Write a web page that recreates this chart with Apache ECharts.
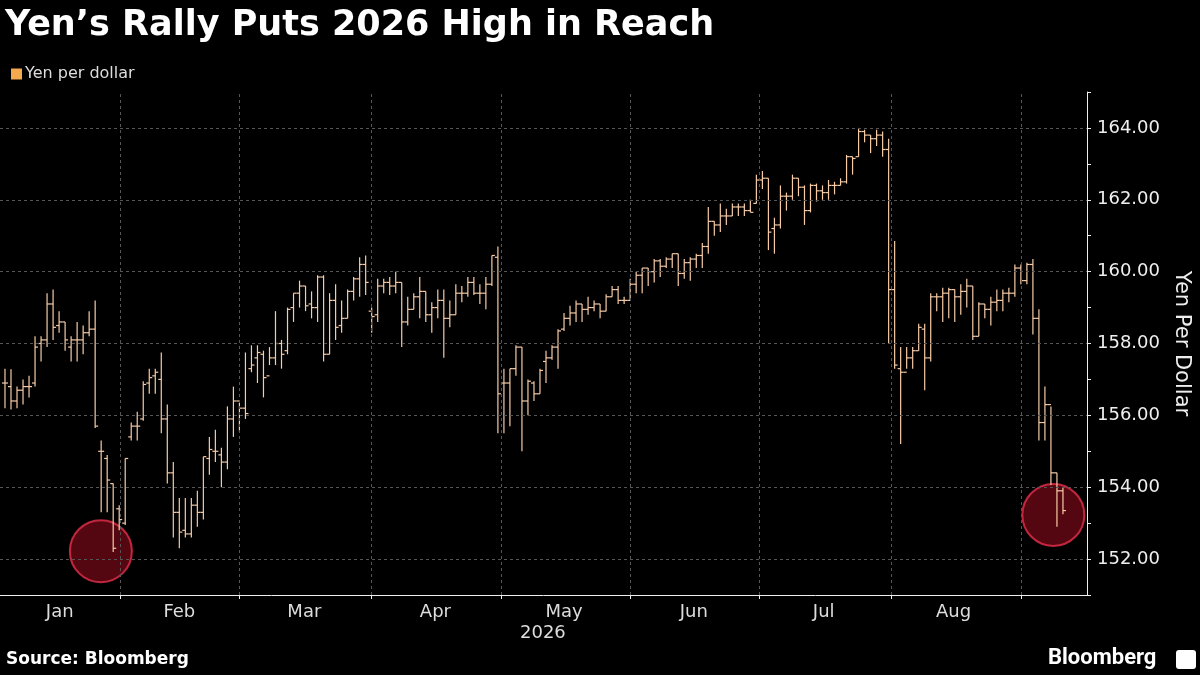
<!DOCTYPE html>
<html><head><meta charset="utf-8">
<script src="https://cdn.jsdelivr.net/npm/echarts@6/dist/echarts.min.js"></script>
<style>html,body{margin:0;background:#000;}#c{width:1200px;height:675px;}</style>
</head><body><div id="c"></div>
<script>
// OHLC rows: [open, high, low, close], one per trading day
const ohlc = [
[156.9,157.3,156.2,156.9],[156.8,157.28,156.16,156.4],[156.4,156.8,156.2,156.7],[156.7,157.0,156.3,156.8],[156.8,157.1,156.5,156.8],
[156.9,158.2,156.8,157.9],[158.0,158.2,157.5,158.1],[158.1,159.4,157.9,159.1],[159.1,159.5,158.1,158.45],[158.5,158.9,158.3,158.6],
[158.6,158.6,157.8,158.1],[157.9,158.2,157.5,158.1],[158.1,158.6,157.5,158.1],[158.1,158.5,157.7,158.3],[158.3,158.9,158.2,158.4],
[158.4,159.2,155.65,155.7],[155.0,155.3,153.3,155.0],[154.8,154.9,153.3,154.2],[154.1,154.1,152.2,152.3],[153.4,153.5,152.8,153.1],
[153.0,154.8,152.95,154.8],
[155.4,155.8,155.3,155.7],[155.7,156.1,155.3,155.7],[155.9,156.95,155.85,156.86],[156.9,157.3,156.6,157.05],[157.1,157.3,156.6,157.2],
[157.0,157.75,155.5,155.9],[155.9,156.3,154.1,154.4],[154.4,154.7,152.6,153.3],[153.3,153.7,152.3,152.75],[152.8,153.7,152.6,152.7],
[152.7,153.7,152.6,153.5],[153.5,153.9,152.9,153.3],[153.3,154.85,153.1,154.85],[154.8,155.4,154.35,155.05],[155.0,155.6,154.7,155.0],
[154.9,155.1,154.0,154.7],[154.7,156.25,154.5,155.9],[155.9,156.8,155.4,156.4],[156.4,156.35,155.55,156.2],
[156.2,157.75,155.9,156.05],[157.3,157.95,157.2,157.4],[157.6,157.95,156.9,157.75],[157.7,157.8,156.5,157.05],[157.1,157.9,157.4,157.6],
[157.6,158.9,157.4,158.0],[158.0,158.1,157.3,157.7],[157.8,159.0,157.7,158.95],[159.0,159.4,158.6,159.4],[159.4,159.75,159.0,159.6],
[159.6,159.6,158.9,159.05],[159.1,159.45,158.7,159.0],[159.0,159.9,158.6,159.85],[159.85,159.9,157.5,157.7],[157.7,159.4,157.7,159.2],
[159.2,159.65,158.1,158.45],[158.5,159.2,158.3,158.7],[158.7,159.5,158.7,159.45],[159.45,159.85,159.2,159.8],[159.8,160.4,159.3,160.2],
[160.2,160.45,159.35,159.7],
[158.9,159.0,158.3,158.75],[158.8,159.8,158.6,159.6],[159.6,159.8,159.4,159.7],[159.7,159.85,159.35,159.6],[159.6,160.0,159.4,159.7],
[159.7,159.7,157.9,158.6],[158.6,159.3,158.5,158.95],[158.95,159.4,158.95,159.3],[159.3,159.85,158.7,159.45],[159.45,159.45,158.6,158.8],
[158.8,159.15,158.3,159.0],[159.0,159.5,158.7,159.2],[159.2,159.5,157.6,158.7],[158.7,159.2,158.45,158.8],[158.8,159.65,158.8,159.4],
[159.4,159.6,159.15,159.4],[159.4,159.85,159.3,159.7],[159.7,159.85,159.35,159.4],[159.4,159.65,159.1,159.4],[159.4,159.85,158.95,159.65],
[159.65,160.45,159.6,160.45],
[160.4,160.7,155.5,156.6],[156.9,157.3,155.5,156.9],[156.9,157.3,155.7,157.3],[157.3,157.95,157.1,157.9],[157.9,157.9,155.0,156.4],
[156.4,157.0,156.0,156.95],[156.9,156.95,156.4,156.6],[156.6,157.3,156.6,157.25],[157.5,157.8,156.9,157.6],[157.6,157.95,157.55,157.9],
[157.9,158.4,157.3,158.35],[158.4,158.85,158.35,158.7],[158.7,159.05,158.5,158.85],[158.85,159.2,158.6,159.1],[159.1,159.1,158.6,158.95],
[158.95,159.3,158.8,159.0],[159.0,159.2,158.9,159.1],[159.1,159.1,158.7,158.9],[158.9,159.37,158.9,159.3],[159.3,159.6,159.3,159.5],
[159.5,159.6,159.1,159.2],[159.2,159.3,159.1,159.2],
[159.2,159.8,159.2,159.65],[159.65,160.0,159.4,159.9],[159.9,160.1,159.4,160.1],[160.1,160.1,159.6,160.0],[160.0,160.35,159.7,160.3],
[160.3,160.35,159.85,160.15],[160.15,160.4,160.1,160.35],[160.35,160.5,160.1,160.5],[160.5,160.5,159.6,159.95],[159.95,160.35,159.8,160.25],
[160.25,160.4,159.75,160.35],[160.35,160.5,160.1,160.45],[160.45,160.8,160.1,160.7],[160.7,161.8,160.5,161.4],[161.4,161.4,161.0,161.3],
[161.3,161.9,161.1,161.55],[161.55,161.75,161.3,161.55],[161.55,161.9,161.55,161.8],[161.8,161.9,161.55,161.8],[161.8,161.9,161.55,161.7],
[161.7,162.0,161.65,161.65],
[161.9,162.7,161.9,162.55],[162.55,162.8,162.3,162.6],[162.6,162.6,160.6,161.1],[161.2,161.5,160.5,161.3],[161.3,162.4,161.2,162.1],
[162.1,162.2,161.7,162.1],[162.1,162.7,162.0,162.6],[162.6,162.6,162.1,162.35],[162.35,162.4,161.3,161.7],[161.7,162.45,161.65,162.4],
[162.4,162.45,161.95,162.25],[162.25,162.4,162.0,162.2],[162.2,162.55,162.0,162.4],[162.4,162.5,162.15,162.4],[162.4,162.6,162.4,162.5],
[162.5,163.25,162.45,163.2],[163.2,163.2,162.7,163.15],[163.2,164.0,163.2,163.9],[163.9,163.95,163.6,163.8],[163.8,163.8,163.3,163.7],
[163.7,163.95,163.5,163.8],[163.8,163.9,163.2,163.4],[163.4,163.7,158.0,159.5],
[159.5,160.85,157.3,157.4],[157.3,157.9,155.2,157.2],[157.2,157.9,157.3,157.6],[157.6,157.9,157.3,157.8],[157.8,158.55,157.8,158.45],
[158.4,158.55,156.7,157.6],[157.6,159.4,157.5,159.3],[159.3,159.4,158.9,159.3],[159.3,159.55,158.6,159.4],[159.4,159.55,158.7,159.5],
[159.5,159.5,158.6,159.3],[159.3,159.65,158.8,159.45],[159.45,159.8,159.0,159.6],[159.6,159.6,158.1,158.2],[158.2,159.15,158.2,159.1],
[159.1,159.1,158.7,158.95],[158.95,159.3,158.5,159.15],[159.15,159.5,158.9,159.2],[159.2,159.5,158.9,159.4],[159.4,159.55,159.15,159.4],
[159.4,160.2,159.3,160.1],
[160.1,160.2,159.65,159.75],[159.75,160.25,159.65,160.2],[160.2,160.35,158.25,158.7],[158.7,158.95,155.3,155.8],[155.8,156.8,155.3,156.3],
[156.3,156.25,154.06,154.4],[154.4,154.4,152.9,153.9],[153.9,154.0,153.25,153.35]
];
const monthNames = ['Jan','Feb','Mar','Apr','May','Jun','Jul','Aug'];
const monthLabelPos = [9.1, 29, 49.8, 71.6, 93, 114.6, 136.2, 157.8];
const monthBounds = [19.1, 39, 61, 82.6, 104, 125.4, 147.5, 169.1];
const yLabels = [152,154,156,158,160,162,164];
const yTicks = [151,152,153,154,155,156,157,158,159,160,161,162,163,164,165];
const highlights = [[15.95,152.22],[174.4,153.23]];

const F = '"DejaVu Sans"';
const chart = echarts.init(document.getElementById('c'));
const dash = {color:'#555', type:[3,3], width:1};
chart.setOption({
  backgroundColor:'#000',
  animation:false,
  title:{text:'Yen\u2019s Rally Puts 2026 High in Reach', left:0, top:3,
    textStyle:{color:'#fff', fontSize:35, fontWeight:'bold', fontFamily:F}},
  legend:{left:6, top:61, itemWidth:11, itemHeight:11, itemGap:4, icon:'rect',
    textStyle:{color:'#ddd', fontSize:16, fontFamily:F, padding:[0,0,0,-2]}, data:['Yen per dollar']},
  grid:{left:0, right:111, top:92, bottom:80},
  xAxis:{type:'value', min:-0.83, max:180.0,
    axisLine:{onZero:false, lineStyle:{color:'#eee'}},
    axisTick:{show:true, length:4, inside:false, lineStyle:{color:'#eee'}, customValues:monthBounds},
    axisLabel:{color:'#ddd', fontSize:18, fontFamily:F, margin:8, customValues:monthLabelPos,
      formatter:v=>{let k=0,d=1e9;monthLabelPos.forEach((p,i)=>{if(Math.abs(p-v)<d){d=Math.abs(p-v);k=i;}});return monthNames[k];}},
    splitLine:{show:false}},
  yAxis:{type:'value', position:'right', min:151, max:165,
    name:'Yen Per Dollar', nameLocation:'middle', nameGap:84, nameRotate:-90,
    nameTextStyle:{color:'#eee', fontSize:21, fontFamily:F},
    axisLine:{show:true, onZero:false, lineStyle:{color:'#eee'}},
    axisTick:{show:true, length:4, lineStyle:{color:'#eee'}, customValues:yTicks},
    axisLabel:{color:'#eee', fontSize:18, fontFamily:F, margin:10, customValues:yLabels, formatter:v=>v.toFixed(2)},
    splitLine:{show:false}},
  graphic:[
    {type:'text', left:520, top:624, style:{text:'2026', fill:'#ddd', font:'18px "DejaVu Sans"'}},
    {type:'text', left:6, top:651, style:{text:'Source: Bloomberg', fill:'#fff', font:'bold 17px "DejaVu Sans"'}},
    {type:'text', left:1048, top:647, style:{text:'Bloomberg', fill:'#fff', font:'bold 22px Roboto'}},
    {type:'rect', shape:{x:1176, y:650, width:20, height:19, r:3}, style:{fill:'#fff'}}
  ],
  series:[
    {type:'scatter', name:'highlight', data:highlights, symbolSize:62, z:1, silent:true,
     itemStyle:{color:'rgba(125,10,25,0.85)', borderColor:'#e8304c', borderWidth:2},
     markLine:{silent:true, symbol:'none', label:{show:false}, lineStyle:dash,
       data:[...monthBounds.map(v=>({xAxis:v})), ...yLabels.map(v=>({yAxis:v}))]}},
    {type:'custom', name:'Yen per dollar', z:3, itemStyle:{color:'#f5a94e'},
     data:ohlc.map((r,i)=>[i, r[0], r[1], r[2], r[3]]),
     encode:{x:0, y:[1,2,3,4]},
     renderItem:(params, api)=>{
       const i=api.value(0);
       const o=api.coord([i,api.value(1)]), h=api.coord([i,api.value(2)]),
             l=api.coord([i,api.value(3)]), c=api.coord([i,api.value(4)]);
       const st={stroke:'#f6cba6', lineWidth:1.2};
       return {type:'group', children:[
         {type:'line', shape:{x1:h[0],y1:h[1],x2:l[0],y2:l[1]}, style:st},
         {type:'line', shape:{x1:o[0]-3,y1:o[1],x2:o[0],y2:o[1]}, style:st},
         {type:'line', shape:{x1:c[0],y1:c[1],x2:c[0]+3,y2:c[1]}, style:st}
       ]};
     }}
  ]
});
</script></body></html>
